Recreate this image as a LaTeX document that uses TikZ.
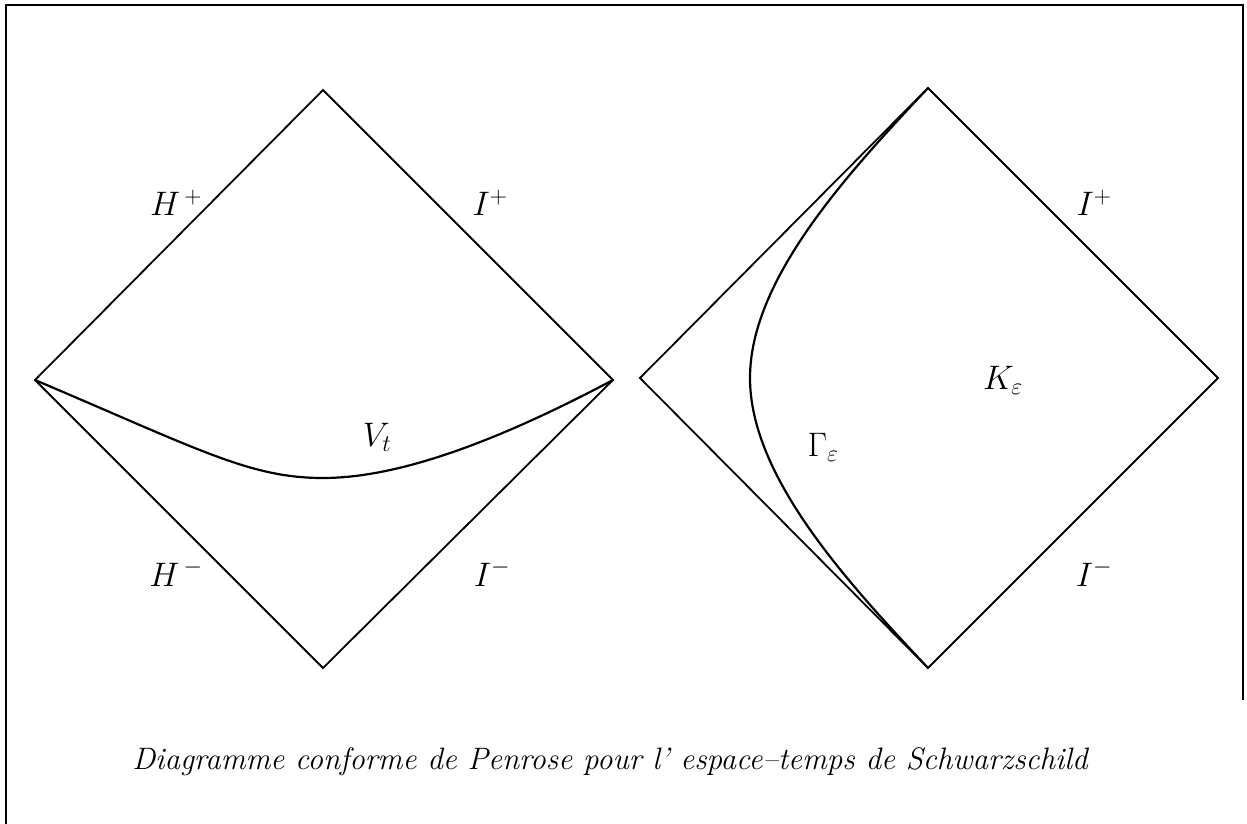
\documentclass[tikz,border=0pt]{standalone}
\usepackage{fix-cm}
\usepackage{amsmath}
\begin{document}
\begin{tikzpicture}[x=1pt,y=-1pt,
  edge/.style={line width=1.8pt,line join=miter},
  curve/.style={line width=2.2pt},
  frame/.style={line width=2pt},
  lab/.style={inner sep=0pt,font=\fontsize{34}{40}\selectfont},
  captext/.style={inner sep=0pt,font=\fontsize{31}{36}\selectfont\itshape}]
\useasboundingbox (0,0) rectangle (1247,824);
% frame
\draw[frame] (6,824) -- (6,5) -- (1243,5) -- (1243,700);
% left diamond
\coordinate (LT) at (323,90);
\coordinate (LL) at (35,380);
\coordinate (LR) at (613,380);
\coordinate (LB) at (323,668);
\draw[edge] (LT) -- (LR) -- (LB) -- (LL) -- cycle;
\draw[curve] (LL) .. controls (200,450) and (250,478) .. (323,478)
  .. controls (400,478) and (500,440) .. (LR);
% right diamond
\coordinate (RT) at (928,88);
\coordinate (RL) at (640,378);
\coordinate (RR) at (1218,378);
\coordinate (RB) at (928,668);
\draw[edge] (RT) -- (RR) -- (RB) -- (RL) -- cycle;
\draw[curve] (RT) .. controls (846,175) and (750,280) .. (750,378)
  .. controls (750,476) and (846,581) .. (RB);
% labels
\node[lab] (hp) at (176,203) {$H^{\,+}$};
\node[lab] (ip) at (490,203) {$I^{+}$};
\node[lab] (hm) at (176,573) {$H^{\,-}$};
\node[lab] (im) at (492,573) {$I^{-}$};
\node[lab] (vt) at (377,437) {$V_t$};
\node[lab] (ge) at (823,447) {$\Gamma_{\varepsilon}$};
\node[lab] (ke) at (1003,380) {$K_{\varepsilon}$};
\node[lab] (ip2) at (1094,203) {$I^{+}$};
\node[lab] (im2) at (1094,573) {$I^{-}$};
\node[captext] (caption) at (610,762) {Diagramme conforme de Penrose pour l'~espace--temps de Schwarzschild};
\end{tikzpicture}
\end{document}
